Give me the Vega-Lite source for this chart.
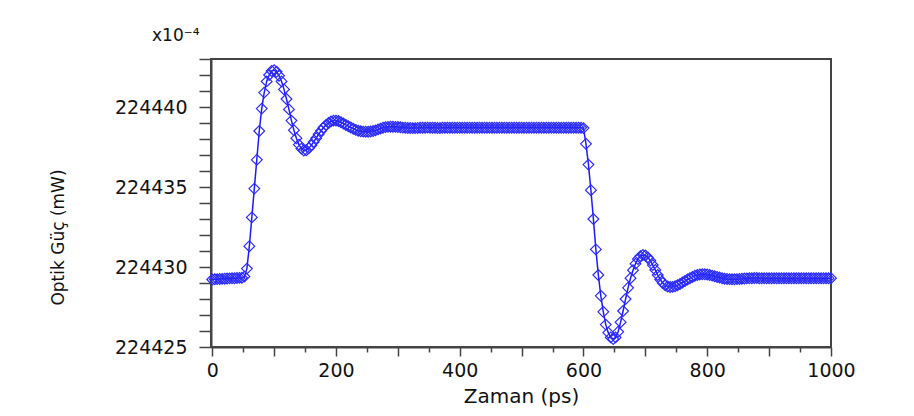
{
  "$schema": "https://vega.github.io/schema/vega-lite/v6.json",
  "width": 620,
  "height": 288,
  "autosize": "none",
  "padding": {"left": 211, "top": 59, "right": 83, "bottom": 69},
  "background": "white",
  "title": {"text": "x10⁻⁴", "anchor": "start", "frame": "group", "dx": -59, "dy": 30, "offset": 22, "baseline": "alphabetic", "font": "DejaVu Sans", "fontSize": 17, "fontWeight": "normal", "color": "#111"},
  "data": {"values": [
    {"t":0,"p":224429.22},{"t":4,"p":224429.23},{"t":8,"p":224429.24},{"t":12,"p":224429.25},{"t":16,"p":224429.26},{"t":20,"p":224429.27},{"t":24,"p":224429.28},{"t":28,"p":224429.29},{"t":32,"p":224429.3},{"t":36,"p":224429.3},{"t":40,"p":224429.31},{"t":44,"p":224429.32},{"t":48,"p":224429.33},
    {"t":52,"p":224429.4},{"t":56,"p":224429.9},{"t":60,"p":224431.3},{"t":64,"p":224433.1},{"t":68,"p":224434.9},{"t":72,"p":224436.7},{"t":76,"p":224438.5},{"t":80,"p":224439.9},{"t":84,"p":224440.9},{"t":88,"p":224441.6},{"t":92,"p":224442.0},{"t":96,"p":224442.25},{"t":100,"p":224442.3},
    {"t":104,"p":224442.2},{"t":108,"p":224441.95},{"t":112,"p":224441.6},{"t":116,"p":224441.1},{"t":120,"p":224440.5},{"t":124,"p":224439.85},{"t":128,"p":224439.15},{"t":132,"p":224438.55},{"t":136,"p":224438.05},{"t":140,"p":224437.65},{"t":144,"p":224437.4},{"t":148,"p":224437.28},
    {"t":152,"p":224437.3},{"t":156,"p":224437.42},{"t":160,"p":224437.6},{"t":164,"p":224437.82},{"t":168,"p":224438.05},{"t":172,"p":224438.3},{"t":176,"p":224438.52},{"t":180,"p":224438.72},{"t":184,"p":224438.88},{"t":188,"p":224439.0},{"t":192,"p":224439.1},{"t":196,"p":224439.15},{"t":200,"p":224439.15},
    {"t":204,"p":224439.12},{"t":208,"p":224439.05},{"t":212,"p":224438.97},{"t":216,"p":224438.88},{"t":220,"p":224438.8},{"t":224,"p":224438.72},{"t":228,"p":224438.64},{"t":232,"p":224438.57},{"t":236,"p":224438.52},{"t":240,"p":224438.48},{"t":244,"p":224438.46},{"t":248,"p":224438.45},
    {"t":252,"p":224438.45},{"t":256,"p":224438.47},{"t":260,"p":224438.5},{"t":264,"p":224438.54},{"t":268,"p":224438.6},{"t":272,"p":224438.65},{"t":276,"p":224438.7},{"t":280,"p":224438.74},{"t":284,"p":224438.76},{"t":288,"p":224438.77},{"t":292,"p":224438.77},{"t":296,"p":224438.76},{"t":300,"p":224438.75},
    {"t":304,"p":224438.73},{"t":308,"p":224438.71},{"t":312,"p":224438.7},{"t":316,"p":224438.69},{"t":320,"p":224438.69},{"t":324,"p":224438.68},{"t":328,"p":224438.68},{"t":332,"p":224438.69},{"t":336,"p":224438.7},{"t":340,"p":224438.7},{"t":344,"p":224438.7},{"t":348,"p":224438.71},
    {"t":352,"p":224438.7},{"t":356,"p":224438.7},{"t":360,"p":224438.7},{"t":364,"p":224438.69},{"t":368,"p":224438.69},{"t":372,"p":224438.7},{"t":376,"p":224438.7},{"t":380,"p":224438.7},{"t":384,"p":224438.7},{"t":388,"p":224438.7},{"t":392,"p":224438.7},{"t":396,"p":224438.7},{"t":400,"p":224438.7},
    {"t":404,"p":224438.7},{"t":408,"p":224438.7},{"t":412,"p":224438.7},{"t":416,"p":224438.7},{"t":420,"p":224438.7},{"t":424,"p":224438.7},{"t":428,"p":224438.7},{"t":432,"p":224438.7},{"t":436,"p":224438.7},{"t":440,"p":224438.7},{"t":444,"p":224438.7},{"t":448,"p":224438.7},
    {"t":452,"p":224438.7},{"t":456,"p":224438.7},{"t":460,"p":224438.7},{"t":464,"p":224438.7},{"t":468,"p":224438.7},{"t":472,"p":224438.7},{"t":476,"p":224438.7},{"t":480,"p":224438.7},{"t":484,"p":224438.7},{"t":488,"p":224438.7},{"t":492,"p":224438.7},{"t":496,"p":224438.7},{"t":500,"p":224438.7},
    {"t":504,"p":224438.7},{"t":508,"p":224438.7},{"t":512,"p":224438.7},{"t":516,"p":224438.7},{"t":520,"p":224438.7},{"t":524,"p":224438.7},{"t":528,"p":224438.7},{"t":532,"p":224438.7},{"t":536,"p":224438.7},{"t":540,"p":224438.7},{"t":544,"p":224438.7},{"t":548,"p":224438.7},
    {"t":552,"p":224438.7},{"t":556,"p":224438.7},{"t":560,"p":224438.7},{"t":564,"p":224438.7},{"t":568,"p":224438.7},{"t":572,"p":224438.7},{"t":576,"p":224438.7},{"t":580,"p":224438.7},{"t":584,"p":224438.7},{"t":588,"p":224438.7},{"t":592,"p":224438.7},{"t":596,"p":224438.7},{"t":600,"p":224438.68},
    {"t":604,"p":224437.7},{"t":608,"p":224436.4},{"t":612,"p":224434.8},{"t":616,"p":224433.0},{"t":620,"p":224431.1},{"t":624,"p":224429.5},{"t":628,"p":224428.2},{"t":632,"p":224427.2},{"t":636,"p":224426.4},{"t":640,"p":224425.9},{"t":644,"p":224425.6},{"t":648,"p":224425.5},
    {"t":652,"p":224425.6},{"t":656,"p":224425.95},{"t":660,"p":224426.55},{"t":664,"p":224427.25},{"t":668,"p":224428.0},{"t":672,"p":224428.7},{"t":676,"p":224429.3},{"t":680,"p":224429.8},{"t":684,"p":224430.2},{"t":688,"p":224430.5},{"t":692,"p":224430.68},{"t":696,"p":224430.75},{"t":700,"p":224430.72},
    {"t":704,"p":224430.6},{"t":708,"p":224430.4},{"t":712,"p":224430.12},{"t":716,"p":224429.82},{"t":720,"p":224429.5},{"t":724,"p":224429.22},{"t":728,"p":224429.0},{"t":732,"p":224428.86},{"t":736,"p":224428.78},{"t":740,"p":224428.75},{"t":744,"p":224428.76},{"t":748,"p":224428.8},
    {"t":752,"p":224428.86},{"t":756,"p":224428.94},{"t":760,"p":224429.03},{"t":764,"p":224429.12},{"t":768,"p":224429.22},{"t":772,"p":224429.3},{"t":776,"p":224429.38},{"t":780,"p":224429.45},{"t":784,"p":224429.5},{"t":788,"p":224429.53},{"t":792,"p":224429.55},{"t":796,"p":224429.55},{"t":800,"p":224429.53},
    {"t":804,"p":224429.5},{"t":808,"p":224429.46},{"t":812,"p":224429.42},{"t":816,"p":224429.38},{"t":820,"p":224429.34},{"t":824,"p":224429.3},{"t":828,"p":224429.27},{"t":832,"p":224429.25},{"t":836,"p":224429.24},{"t":840,"p":224429.23},{"t":844,"p":224429.23},{"t":848,"p":224429.24},
    {"t":852,"p":224429.25},{"t":856,"p":224429.27},{"t":860,"p":224429.28},{"t":864,"p":224429.29},{"t":868,"p":224429.3},{"t":872,"p":224429.3},{"t":876,"p":224429.31},{"t":880,"p":224429.31},{"t":884,"p":224429.3},{"t":888,"p":224429.3},{"t":892,"p":224429.3},{"t":896,"p":224429.3},{"t":900,"p":224429.3},
    {"t":904,"p":224429.3},{"t":908,"p":224429.3},{"t":912,"p":224429.3},{"t":916,"p":224429.3},{"t":920,"p":224429.3},{"t":924,"p":224429.3},{"t":928,"p":224429.3},{"t":932,"p":224429.3},{"t":936,"p":224429.3},{"t":940,"p":224429.3},{"t":944,"p":224429.3},{"t":948,"p":224429.3},
    {"t":952,"p":224429.3},{"t":956,"p":224429.3},{"t":960,"p":224429.3},{"t":964,"p":224429.3},{"t":968,"p":224429.3},{"t":972,"p":224429.3},{"t":976,"p":224429.3},{"t":980,"p":224429.3},{"t":984,"p":224429.3},{"t":988,"p":224429.3},{"t":992,"p":224429.3},{"t":996,"p":224429.3},{"t":1000,"p":224429.3}
  ]},
  "encoding": {
    "x": {"field": "t", "type": "quantitative",
      "scale": {"domain": [-2, 1000], "nice": false, "zero": false},
      "axis": {"title": "Zaman (ps)", "values": [0,50,100,150,200,250,300,350,400,450,500,550,600,650,700,750,800,850,900,950,1000],
        "format": "d", "labelExpr": "datum.value % 200 == 0 ? datum.label : ''",
        "tickSize": {"condition": {"test": "datum.value % 100 != 0", "value": 5}, "value": 9},
        "labelPadding": 5, "labelFont": "DejaVu Sans", "labelFontSize": 19, "labelColor": "#111",
        "titleFont": "DejaVu Sans", "titleFontSize": 20, "titleFontWeight": "normal", "titleColor": "#111", "titlePadding": 6,
        "grid": false, "domainColor": "#444", "domainWidth": 2, "tickColor": "#444", "tickWidth": 1.5, "labelFlush": false, "labelOverlap": false}},
    "y": {"field": "p", "type": "quantitative",
      "scale": {"domain": [224425, 224443], "nice": false, "zero": false},
      "axis": {"title": "Optik Güç (mW)", "values": [224425,224425.5,224426,224426.5,224427,224427.5,224428,224428.5,224429,224429.5,224430,224430.5,224431,224431.5,224432,224432.5,224433,224433.5,224434,224434.5,224435,224435.5,224436,224436.5,224437,224437.5,224438,224438.5,224439,224439.5,224440,224440.5,224441,224441.5,224442,224442.5,224443],
        "format": "d", "labelExpr": "datum.value % 5 == 0 ? datum.label : ''",
        "tickSize": {"condition": {"test": "datum.value % 1 != 0", "value": 6}, "value": 12},
        "labelPadding": 12, "labelFont": "DejaVu Sans", "labelFontSize": 19, "labelColor": "#111",
        "titleFont": "DejaVu Sans", "titleFontSize": 17, "titleFontWeight": "normal", "titleColor": "#111",
        "titleX": -144, "titleY": 178, "titleAngle": -90, "titleAlign": "center", "titleBaseline": "bottom",
        "grid": false, "domainColor": "#444", "domainWidth": 2, "tickColor": "#444", "tickWidth": 1.5, "labelFlush": false, "labelOverlap": false}}
  },
  "layer": [
    {"mark": {"type": "line", "color": "#1a1aff", "strokeWidth": 1.5}},
    {"mark": {"type": "point", "shape": "diamond", "filled": false, "size": 115, "stroke": "#2a2aff", "strokeWidth": 1.2, "opacity": 1}}
  ],
  "config": {"view": {"stroke": "#444", "strokeWidth": 2}}
}
